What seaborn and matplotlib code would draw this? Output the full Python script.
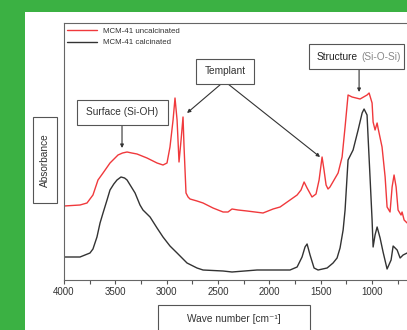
import matplotlib
matplotlib.use("Agg")
import matplotlib.pyplot as plt
from matplotlib.patches import Rectangle
import seaborn as sns
import pandas as pd

# ---- data ----
wn_uncalc = [4000, 3844, 3776, 3718, 3669, 3620, 3552, 3474, 3430, 3386, 3340, 3289, 3192, 3094,
             3036, 2997, 2968, 2938, 2919, 2899, 2880, 2860, 2841, 2831, 2812, 2792,
             2773, 2705, 2646, 2549, 2451, 2403, 2364, 2305, 2218, 2062, 1964, 1896,
             1799, 1730, 1692, 1662, 1633, 1585, 1546, 1516, 1487, 1468, 1448, 1429,
             1410, 1331, 1292, 1263, 1234, 1195, 1117, 1049, 1029, 1000, 990, 971,
             951, 942, 903, 873, 854, 825, 805, 786, 766, 747, 718, 708, 688, 659]
abs_uncalc = [0.74, 0.75, 0.77, 0.85, 1.00, 1.07, 1.17, 1.25, 1.27, 1.28, 1.27, 1.26, 1.22, 1.17,
              1.15, 1.17, 1.33, 1.60, 1.82, 1.60, 1.18, 1.40, 1.63, 1.33, 0.87, 0.83,
              0.81, 0.79, 0.77, 0.72, 0.68, 0.68, 0.71, 0.70, 0.69, 0.67, 0.71, 0.73,
              0.80, 0.85, 0.90, 0.98, 0.92, 0.83, 0.86, 1.00, 1.23, 1.10, 0.95, 0.91,
              0.93, 1.07, 1.23, 1.53, 1.85, 1.83, 1.81, 1.85, 1.87, 1.77, 1.58, 1.50,
              1.57, 1.52, 1.33, 1.03, 0.73, 0.68, 0.93, 1.05, 0.93, 0.70, 0.65, 0.68,
              0.60, 0.57]

wn_calc = [4000, 3844, 3747, 3718, 3679, 3649, 3620, 3581, 3552, 3515, 3484, 3445, 3410, 3386,
           3308, 3260, 3231, 3162, 3094, 3036, 2968, 2899, 2802, 2705, 2646, 2451,
           2364, 2120, 1964, 1799, 1730, 1682, 1653, 1633, 1604, 1565, 1526, 1438,
           1380, 1341, 1312, 1282, 1263, 1234, 1185, 1136, 1097, 1078, 1049, 1039,
           1020, 1000, 990, 971, 951, 922, 893, 854, 815, 795, 756, 727, 698, 659]
abs_calc = [0.23, 0.23, 0.27, 0.31, 0.43, 0.57, 0.67, 0.80, 0.90, 0.96, 1.00, 1.03, 1.02, 1.00,
            0.87, 0.75, 0.70, 0.63, 0.52, 0.43, 0.34, 0.27, 0.17, 0.12, 0.10, 0.09,
            0.08, 0.10, 0.10, 0.10, 0.13, 0.23, 0.33, 0.36, 0.25, 0.12, 0.10, 0.12,
            0.17, 0.22, 0.32, 0.50, 0.70, 1.20, 1.30, 1.50, 1.67, 1.71, 1.65, 1.43,
            1.03, 0.60, 0.33, 0.45, 0.53, 0.42, 0.28, 0.11, 0.20, 0.34, 0.30, 0.22,
            0.25, 0.27]

series_names = ["MCM-41 uncalcinated", "MCM-41 calcinated"]
xticks = [4000, 3500, 3000, 2500, 2000, 1500, 1000]

# ---- style ----
sns.set_theme(style="white")
plt.rcParams["font.family"] = ["Liberation Sans", "DejaVu Sans"]

W, H = 407, 330
fig = plt.figure(figsize=(W / 100, H / 100), dpi=100)
fig.patch.set_facecolor("#3bb143")
fig.patches.append(Rectangle((25 / W, 0), 1, (H - 12) / H, transform=fig.transFigure,
                             facecolor="white", edgecolor="none", zorder=-10))

ax_l, ax_t, ax_b = 64, 23, 280
ax = fig.add_axes([ax_l / W, 1 - ax_b / H, 1 - ax_l / W, (ax_b - ax_t) / H])
ax.set_facecolor("white")

df1 = pd.DataFrame({"wn": wn_uncalc, "a": abs_uncalc})
df2 = pd.DataFrame({"wn": wn_calc, "a": abs_calc})
sns.lineplot(data=df1, x="wn", y="a", color="#f0393c", lw=1.0, ax=ax,
             label=series_names[0], sort=False)
sns.lineplot(data=df2, x="wn", y="a", color="#333333", lw=1.0, ax=ax,
             label=series_names[1], sort=False)

ax.set_xlim(4000, 660)
ax.set_ylim(0, 2.57)
ax.set_yticks([])
ax.set_xticks(xticks)
ax.set_xticks([3750, 3250, 2750, 2250, 1750, 1250, 750], minor=True)
ax.tick_params(axis="x", which="both", direction="out", length=3, width=0.8,
               color="#555555", labelsize=7, labelcolor="#333333", pad=2,
               bottom=True)
for s in ["left", "top", "bottom"]:
    ax.spines[s].set_color("#666666")
    ax.spines[s].set_linewidth(0.8)
ax.spines["right"].set_visible(False)

# legend
leg = ax.legend(loc="upper left", bbox_to_anchor=(3 / 343, 1 - 4 / 257),
                frameon=False, fontsize=5.7, handlelength=3.8, handletextpad=0.7,
                borderpad=0, borderaxespad=0, labelspacing=0.55)
for t in leg.get_texts():
    t.set_color("#333333")

# axis labels with boxes
def fig_box(x0, y0, x1, y1):
    fig.patches.append(Rectangle((x0 / W, 1 - y1 / H), (x1 - x0) / W, (y1 - y0) / H,
                                 transform=fig.transFigure, facecolor="none",
                                 edgecolor="#555555", lw=0.8, zorder=5))

ax.set_xlabel("Wave number [cm⁻¹]", fontsize=7.3, color="#333333")
ax.xaxis.set_label_coords((234 - ax_l) / 343, (ax_b - 319) / 257)
ax.xaxis.label.set_va("center")
fig_box(158, 305, 310, 336)

ax.set_ylabel("Absorbance", fontsize=7.3, color="#333333")
ax.yaxis.set_label_coords((45 - ax_l) / 343, (ax_b - 160) / 257)
ax.yaxis.label.set_va("center")
fig_box(33, 117, 57, 203)

# annotation boxes (pixel layout of reference)
def px2data(px, py):
    return 4000 - (px - ax_l) * 3000 / 308, (ax_b - py) / 100

def ax_box(x0, y0, x1, y1):
    ax.add_patch(Rectangle((x0 / W, 1 - y1 / H), (x1 - x0) / W, (y1 - y0) / H,
                           transform=fig.transFigure, facecolor="white",
                           edgecolor="#555555", lw=0.8, zorder=5, clip_on=False))

def arrow(p0, p1):
    ax.annotate("", xy=px2data(*p1), xytext=px2data(*p0),
                arrowprops=dict(arrowstyle="-|>", color="#333333", lw=0.8,
                                mutation_scale=5, shrinkA=0, shrinkB=0))

tkw = dict(transform=fig.transFigure, fontsize=7.3, va="center", zorder=6)

ax_box(77, 100, 168, 125)
fig.text(122.5 / W, 1 - 112.5 / H, "Surface (Si-OH)", ha="center", color="#333333", **tkw)
arrow((122, 125), (122, 148))

ax_box(196, 59, 254, 84)
fig.text(225 / W, 1 - 71.5 / H, "Templant", ha="center", color="#333333", **tkw)
arrow((221, 84), (187, 113))
arrow((228, 84), (320, 157))

ax_box(309, 44, 404, 69)
fig.text(358 / W, 1 - 56.5 / H, "Structure", ha="right", color="#222222", **tkw)
fig.text(361 / W, 1 - 56.5 / H, "(Si-O-Si)", ha="left", color="#888888", **tkw)
arrow((359, 69), (359, 92))

fig.savefig("out.png", dpi=100, facecolor=fig.get_facecolor())
